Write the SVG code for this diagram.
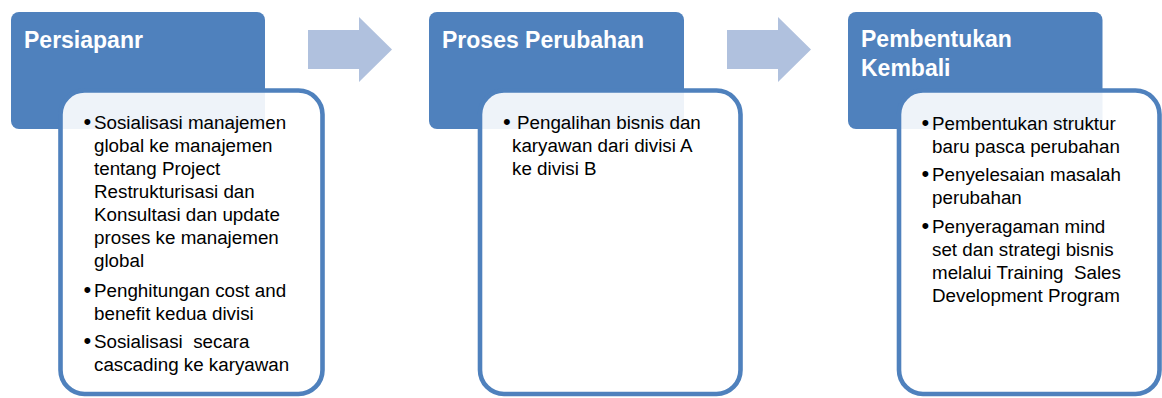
<svg xmlns="http://www.w3.org/2000/svg" width="1162" height="398" viewBox="0 0 1162 398">
<style>
.hdr{fill:#4F81BD}
.card{fill:#FFFFFF;fill-opacity:0.9;stroke:#4F81BD;stroke-width:4.6}
.arrow{fill:#B0C1DE}
.ht{font-family:"Liberation Sans",Arial,sans-serif;font-weight:bold;font-size:23px;fill:#FFFFFF}
.bt{font-family:"Liberation Sans",Arial,sans-serif;font-size:18.8px;fill:#000000;white-space:pre}
.bu{font-size:22px}
</style>
<rect width="1162" height="398" fill="#FFFFFF"/>
<g id="connectors">
<polygon class="arrow" points="308,30 359,30 359,17 392,49.5 359,82 359,69 308,69"/>
<polygon class="arrow" points="727,30 778,30 778,17 811,49.5 778,82 778,69 727,69"/>
</g>
<g id="node1">
<rect class="hdr" x="11" y="12" width="254" height="117" rx="8"/>
<text class="ht" x="24" y="48">Persiapanr</text>
<rect class="card" x="60.5" y="90.5" width="262" height="303.5" rx="24"/>
<text class="bt" xml:space="preserve"><tspan class="bu" x="83.5" y="129">•</tspan><tspan x="94" y="129">Sosialisasi manajemen</tspan><tspan x="94" y="152">global ke manajemen</tspan><tspan x="94" y="175">tentang Project</tspan><tspan x="94" y="198">Restrukturisasi dan</tspan><tspan x="94" y="221">Konsultasi dan update</tspan><tspan x="94" y="244">proses ke manajemen</tspan><tspan x="94" y="267">global</tspan><tspan class="bu" x="83.5" y="297">•</tspan><tspan x="94" y="297">Penghitungan cost and</tspan><tspan x="94" y="320">benefit kedua divisi</tspan><tspan class="bu" x="83.5" y="348">•</tspan><tspan x="94" y="348">Sosialisasi  secara</tspan><tspan x="94" y="371">cascading ke karyawan</tspan></text>
</g>
<g id="node2">
<rect class="hdr" x="429" y="12" width="255" height="117" rx="8"/>
<text class="ht" x="442" y="48">Proses Perubahan</text>
<rect class="card" x="480" y="90.5" width="260.5" height="303.5" rx="24"/>
<text class="bt" xml:space="preserve"><tspan class="bu" x="503" y="129">•</tspan><tspan x="517" y="129">Pengalihan bisnis dan</tspan><tspan x="512" y="152">karyawan dari divisi A</tspan><tspan x="512" y="175">ke divisi B</tspan></text>
</g>
<g id="node3">
<rect class="hdr" x="848" y="12" width="254.5" height="117" rx="8"/>
<text class="ht"><tspan x="861" y="47">Pembentukan</tspan><tspan x="861" y="76">Kembali</tspan></text>
<rect class="card" x="899" y="90.5" width="260.5" height="303.5" rx="24"/>
<text class="bt" xml:space="preserve"><tspan class="bu" x="921.5" y="130">•</tspan><tspan x="932" y="130">Pembentukan struktur</tspan><tspan x="932" y="153">baru pasca perubahan</tspan><tspan class="bu" x="921.5" y="181">•</tspan><tspan x="932" y="181">Penyelesaian masalah</tspan><tspan x="932" y="204">perubahan</tspan><tspan class="bu" x="921.5" y="233">•</tspan><tspan x="932" y="233">Penyeragaman mind</tspan><tspan x="932" y="256">set dan strategi bisnis</tspan><tspan x="932" y="279">melalui Training  Sales</tspan><tspan x="932" y="302">Development Program</tspan></text>
</g>
</svg>
